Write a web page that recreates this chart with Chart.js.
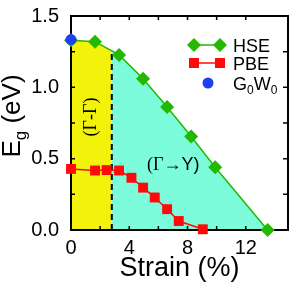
<!DOCTYPE html>
<html>
<head>
<meta charset="utf-8">
<script src="https://cdn.jsdelivr.net/npm/chart.js@4/dist/chart.umd.min.js"></script>
<style>
  html, body { margin: 0; padding: 0; background: #fff; }
  #wrap { width: 295px; height: 284px; }
</style>
</head>
<body>
<div id="wrap"><canvas id="bandgap-canvas" width="295" height="284"></canvas></div>
<script>
// strain (%) and band gap (eV)
var hseStrain = [0, 1.65, 3.3, 4.95, 6.6, 8.25, 9.9, 13.5]
var hseGap = [1.33, 1.32, 1.227, 1.06, 0.862, 0.655, 0.44, 0]
var pbeStrain = [0, 1.65, 2.45, 3.3, 4.15, 4.95, 5.75, 6.6, 7.4, 9.05]
var pbeGap = [0.428, 0.417, 0.42, 0.417, 0.366, 0.297, 0.228, 0.146, 0.063, 0.005]
var gwStrain = [0]
var gwGap = [1.335]
var transitionStrain = 2.8   // dashed line, direct -> indirect
var xTicks = [0, 4, 8, 12]
var yTicks = [0.0, 0.5, 1.0, 1.5]

var FONT = '"Liberation Sans", Arial, sans-serif'
var SERIF = '"Liberation Serif", "Times New Roman", serif'

function to_points(xs, ys) {
    var pts = []
    for (let i = 0; i < xs.length; i++) {
        pts.push({x: xs[i], y: ys[i]})
    }
    return pts
}

// HSE gap at a strain value, linear between the measured points
function hse_at(s) {
    for (let i = 1; i < hseStrain.length; i++) {
        if (s <= hseStrain[i]) {
            var t = (s - hseStrain[i - 1]) / (hseStrain[i] - hseStrain[i - 1])
            return hseGap[i - 1] + t * (hseGap[i] - hseGap[i - 1])
        }
    }
    return hseGap[hseGap.length - 1]
}

var hsePoints = to_points(hseStrain, hseGap)
var splitPoint = {x: transitionStrain, y: hse_at(transitionStrain)}
var yellowArea = hsePoints.filter(p => p.x < transitionStrain).concat([splitPoint])
var cyanArea = [splitPoint].concat(hsePoints.filter(p => p.x > transitionStrain))

var GREEN = '#22b900'
var RED = '#ff0a0a'
var BLUE = '#1f40f0'

function draw_diamond(ctx, x, y, r, color) {
    ctx.beginPath()
    ctx.moveTo(x, y - r); ctx.lineTo(x + r, y); ctx.lineTo(x, y + r); ctx.lineTo(x - r, y)
    ctx.closePath()
    ctx.fillStyle = color
    ctx.fill()
}

// frame + inward ticks, drawn right after the filled areas
var framePlugin = {
    id: 'frame',
    afterDatasetDraw: function (chart, args) {
        if (args.index !== 1) return
        var ctx = chart.ctx
        var a = chart.chartArea
        var xs = chart.scales.x, ys = chart.scales.y
        ctx.save()
        ctx.strokeStyle = '#000'
        ctx.lineWidth = 2
        ctx.strokeRect(a.left, a.top, a.right - a.left, a.bottom - a.top)
        ctx.lineWidth = 1.5
        ctx.beginPath()
        xs.ticks.forEach(function (t) {
            var px = xs.getPixelForValue(t.value)
            if (px <= a.left + 1 || px >= a.right - 1) return
            ctx.moveTo(px, a.bottom); ctx.lineTo(px, a.bottom - 4)
            ctx.moveTo(px, a.top); ctx.lineTo(px, a.top + 4)
        })
        ys.ticks.forEach(function (t) {
            var py = ys.getPixelForValue(t.value)
            if (py <= a.top + 1 || py >= a.bottom - 1) return
            ctx.moveTo(a.left, py); ctx.lineTo(a.left + 4, py)
            ctx.moveTo(a.right, py); ctx.lineTo(a.right - 5, py)
        })
        ctx.stroke()
        ctx.restore()
    },
    afterDraw: function (chart) {
        var ctx = chart.ctx
        var a = chart.chartArea
        ctx.save()
        ctx.fillStyle = '#000'

        // x title
        ctx.font = '27px ' + FONT
        ctx.textAlign = 'center'
        ctx.textBaseline = 'alphabetic'
        ctx.fillText('Strain (%)', (a.left + a.right) / 2, 276)

        // y title E_g (eV), rotated
        ctx.save()
        ctx.translate(20, 116)
        ctx.rotate(-Math.PI / 2)
        ctx.textAlign = 'left'
        ctx.font = '26px ' + FONT
        var wE = ctx.measureText('E').width
        var wRest = ctx.measureText(' (eV)').width
        ctx.font = '17px ' + FONT
        var wg = ctx.measureText('g').width
        var x0 = -(wE + wg + wRest) / 2
        ctx.font = '26px ' + FONT
        ctx.fillText('E', x0, 0)
        ctx.font = '17px ' + FONT
        ctx.fillText('g', x0 + wE, 6)
        ctx.font = '26px ' + FONT
        ctx.fillText(' (eV)', x0 + wE + wg, 0)
        ctx.restore()

        // region labels
        ctx.save()
        ctx.translate(91, 117)
        ctx.rotate(-Math.PI / 2)
        ctx.font = '18px ' + SERIF
        ctx.textAlign = 'center'
        ctx.textBaseline = 'middle'
        ctx.fillText('(\u0393-\u0393)', 0, 0)
        ctx.restore()

        ctx.textAlign = 'left'
        ctx.textBaseline = 'middle'
        ctx.font = '18px ' + SERIF
        var part1 = '(\u0393\u2192'
        ctx.fillText(part1, 147, 165)
        var w1 = ctx.measureText(part1).width
        ctx.font = '18px ' + FONT
        ctx.fillText('Y)', 147 + w1, 165)

        // legend
        ctx.lineWidth = 1.5
        ctx.strokeStyle = GREEN
        ctx.beginPath(); ctx.moveTo(194, 45); ctx.lineTo(220, 45); ctx.stroke()
        draw_diamond(ctx, 194, 45, 7, GREEN)
        draw_diamond(ctx, 220, 45, 7, GREEN)
        ctx.strokeStyle = RED
        ctx.beginPath(); ctx.moveTo(194, 63); ctx.lineTo(220, 63); ctx.stroke()
        ctx.fillStyle = RED
        ctx.fillRect(189, 58, 10, 10)
        ctx.fillRect(215, 58, 10, 10)
        ctx.fillStyle = BLUE
        ctx.beginPath(); ctx.arc(208, 83, 5.5, 0, Math.PI * 2); ctx.fill()

        ctx.fillStyle = '#000'
        ctx.textBaseline = 'alphabetic'
        ctx.font = '18px ' + FONT
        ctx.fillText('HSE', 233, 52)
        ctx.fillText('PBE', 233, 70)
        var lx = 233
        ctx.fillText('G', lx, 90); lx += ctx.measureText('G').width
        ctx.font = '12px ' + FONT
        ctx.fillText('0', lx, 94); lx += ctx.measureText('0').width
        ctx.font = '18px ' + FONT
        ctx.fillText('W', lx, 90); lx += ctx.measureText('W').width
        ctx.font = '12px ' + FONT
        ctx.fillText('0', lx, 94)
        ctx.restore()
    }
}

var ctx = document.getElementById('bandgap-canvas').getContext('2d')
var bandgapChart = new Chart(ctx, {
    type: 'scatter',
    data: {
        datasets: [{
            label: 'direct region',
            data: yellowArea,
            showLine: true,
            fill: 'origin',
            backgroundColor: '#f2f20a',
            borderWidth: 0,
            pointRadius: 0,
            order: 10
        }, {
            label: 'indirect region',
            data: cyanArea,
            showLine: true,
            fill: 'origin',
            backgroundColor: '#7dfcdc',
            borderWidth: 0,
            pointRadius: 0,
            order: 9
        }, {
            label: 'transition',
            data: [{x: transitionStrain, y: 0}, splitPoint],
            showLine: true,
            borderColor: '#000',
            borderWidth: 2,
            borderDash: [6, 4],
            pointRadius: 0,
            order: 8
        }, {
            label: 'PBE',
            data: to_points(pbeStrain, pbeGap),
            showLine: true,
            borderColor: RED,
            borderWidth: 1.5,
            pointStyle: 'rect',
            pointRadius: 7,
            backgroundColor: RED,
            pointBorderWidth: 0,
            clip: false,
            order: 3
        }, {
            label: 'HSE',
            data: hsePoints,
            showLine: true,
            borderColor: GREEN,
            borderWidth: 1.5,
            pointStyle: 'rectRot',
            pointRadius: 7,
            backgroundColor: GREEN,
            pointBorderWidth: 0,
            clip: false,
            order: 2
        }, {
            label: 'G0W0',
            data: to_points(gwStrain, gwGap),
            pointStyle: 'circle',
            pointRadius: 5.5,
            backgroundColor: BLUE,
            pointBorderWidth: 0,
            clip: false,
            order: 1
        }]
    },
    options: {
        responsive: false,
        animation: false,
        layout: {padding: {top: 14, right: 1, left: 0, bottom: 0}},
        plugins: {legend: {display: false}, tooltip: {enabled: false}},
        scales: {
            x: {
                type: 'linear',
                min: 0,
                max: 14.9,
                afterFit: function (scale) { scale.height = 54 },
                grid: {display: false},
                border: {display: false},
                ticks: {
                    stepSize: 2,
                    autoSkip: false,
                    maxRotation: 0,
                    padding: -2,
                    color: '#000',
                    font: {family: FONT, size: 20},
                    callback: function (v) { return xTicks.indexOf(v) >= 0 ? String(v) : '' }
                }
            },
            y: {
                min: 0,
                max: 1.5,
                afterFit: function (scale) { scale.width = 71 },
                grid: {display: false},
                border: {display: false},
                ticks: {
                    stepSize: 0.25,
                    autoSkip: false,
                    padding: 4,
                    color: '#000',
                    font: {family: FONT, size: 20},
                    callback: function (v) {
                        for (let i = 0; i < yTicks.length; i++) {
                            if (Math.abs(yTicks[i] - v) < 1e-6) return yTicks[i].toFixed(1)
                        }
                        return ''
                    }
                }
            }
        }
    },
    plugins: [framePlugin]
})
</script>
</body>
</html>
